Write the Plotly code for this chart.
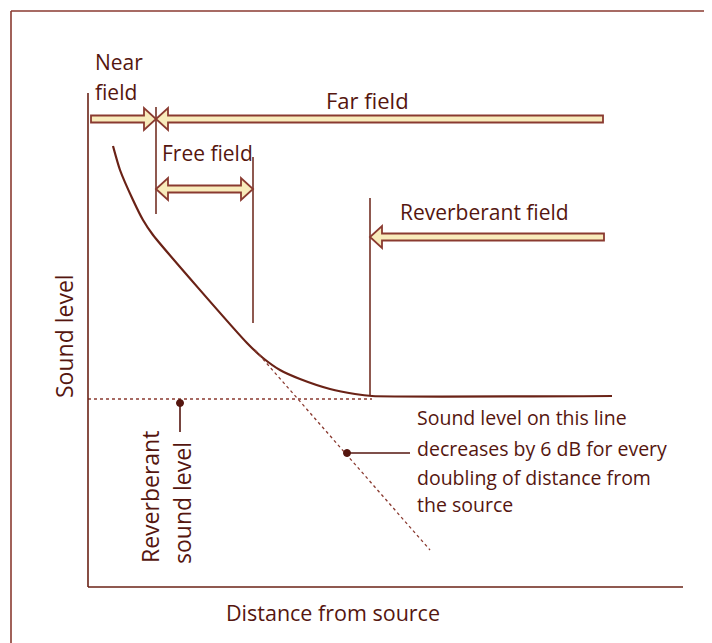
import plotly.graph_objects as go

# --- DATA (chart units: distance from the level axis, level above the distance axis) ---
curve_distance = [25, 32, 45, 55, 65, 159, 175, 192, 212, 242, 267, 284, 524]
curve_level = [441, 417, 387, 367, 352, 244, 229, 217, 208, 198, 193, 191, 191]

inverse_sq_distance = [167, 342]
inverse_sq_level = [237, 37]

reverb_distance = [0, 284]
reverb_level = [188, 188]

# field boundaries (distance)
near_far_boundary = 68
free_field_end = 165
reverb_start = 282

annotation_lines = [
    "Sound level on this line",
    "decreases by 6 dB for every",
    "doubling of distance from",
    "the source",
]

# --- STYLE ---
TEXT = "#55160f"
INK = "#6a2216"
FRAME = "#8a3a30"
FILL = "#f8ebbb"
FONT = "Open Sans"

# the page body has an 8px margin: figure is 8px smaller and ranges shifted
W, H = 704, 635
X_RANGE = [-80, 624]
Y_RANGE = [-56, 579]


def arrow_path(tail, tip, y, shaft=3.5, head=11, head_len=12, double=False):
    d = 1 if tip > tail else -1
    base = tip - d * head_len
    pts = []
    if double:
        tbase = tail + d * head_len
        pts += [(tail, y), (tbase, y - head), (tbase, y - shaft)]
    else:
        pts += [(tail, y - shaft)]
    pts += [(base, y - shaft), (base, y - head), (tip, y), (base, y + head), (base, y + shaft)]
    if double:
        pts += [(tbase, y + shaft), (tbase, y + head)]
    else:
        pts += [(tail, y + shaft)]
    return "M " + " L ".join(f"{px},{py}" for px, py in pts) + " Z"


def vline(x, y0, y1, color=INK, width=1.5):
    return dict(type="line", xref="x", yref="y", x0=x, x1=x, y0=y0, y1=y1,
                line=dict(color=color, width=width))


def hline(y, x0, x1, color=INK, width=1.5):
    return dict(type="line", xref="x", yref="y", x0=x0, x1=x1, y0=y, y1=y,
                line=dict(color=color, width=width))


def arrow(path):
    return dict(type="path", xref="x", yref="y", path=path, fillcolor=FILL,
                line=dict(color=FRAME, width=1.8))


fig = go.Figure()

fig.add_trace(go.Scatter(
    x=curve_distance, y=curve_level, mode="lines",
    line=dict(color=INK, width=2.2, shape="spline", smoothing=0.6),
    hoverinfo="skip", showlegend=False,
))
fig.add_trace(go.Scatter(
    x=inverse_sq_distance, y=inverse_sq_level, mode="lines",
    line=dict(color=FRAME, width=1.3, dash="dot"),
    hoverinfo="skip", showlegend=False,
))
fig.add_trace(go.Scatter(
    x=reverb_distance, y=reverb_level, mode="lines",
    line=dict(color=FRAME, width=1.3, dash="dot"),
    hoverinfo="skip", showlegend=False,
))
# callout dots
fig.add_trace(go.Scatter(
    x=[92, 259], y=[184, 134], mode="markers",
    marker=dict(color=TEXT, size=7, line=dict(color=TEXT, width=1)),
    hoverinfo="skip", showlegend=False,
))

shapes = [
    # outer frame
    vline(-77, -56, 576, FRAME, 1.6),
    hline(576, -77, 624, FRAME, 1.6),
    # axes
    vline(0, 0, 494, INK, 1.6),
    hline(0, 0, 595, INK, 1.6),
    # boundaries
    vline(near_far_boundary, 373, 480),
    vline(free_field_end, 264, 430),
    vline(reverb_start, 192, 389),
    # callout stems
    vline(92, 155, 184, TEXT, 1.6),
    hline(134, 259, 322, TEXT, 1.6),
    # arrows
    arrow(arrow_path(3, near_far_boundary, 468)),
    arrow(arrow_path(515, near_far_boundary, 468)),
    arrow(arrow_path(near_far_boundary, free_field_end, 398, double=True)),
    arrow(arrow_path(516, reverb_start, 350)),
]


def label(text, x, y, size=21, xanchor="left", angle=0):
    return dict(text=text, x=x, y=y, xref="x", yref="y", showarrow=False,
                xanchor=xanchor, yanchor="middle", textangle=angle,
                font=dict(family=FONT, size=size, color=TEXT))


annotations = [
    label("Near", 5, 525),
    label("field", 5, 495),
    label("Far field", 236, 487, size=22),
    label("Free field", 72, 434),
    label("Reverberant field", 310, 375),
    label("Sound level", -24, 251, size=23, xanchor="center", angle=-90),
    label("Reverberant", 62, 90, size=23, xanchor="center", angle=-90),
    label("sound level", 94, 84, size=23, xanchor="center", angle=-90),
    label("Distance from source", 245, -25, size=21.5, xanchor="center"),
]
for i, line in enumerate(annotation_lines):
    annotations.append(label(line, 327, [170, 139, 110, 83][i], size=19.5))

fig.update_layout(
    width=W, height=H,
    margin=dict(l=0, r=0, t=0, b=0),
    paper_bgcolor="white", plot_bgcolor="white",
    xaxis=dict(range=X_RANGE, visible=False, fixedrange=True),
    yaxis=dict(range=Y_RANGE, visible=False, fixedrange=True),
    shapes=shapes, annotations=annotations,
    showlegend=False,
)

fig.write_html("out.html", config={"displayModeBar": False})
